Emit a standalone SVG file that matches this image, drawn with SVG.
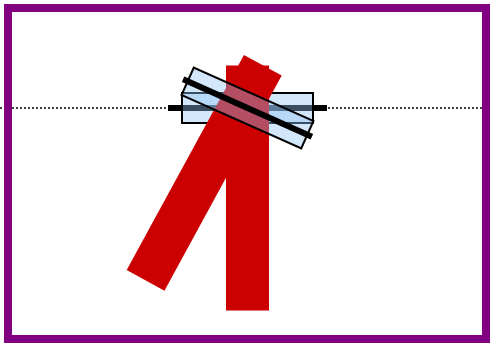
<svg xmlns="http://www.w3.org/2000/svg" width="490" height="343" viewBox="0 0 490 343">
  <defs>
    <style>
      .bar { fill: #cc0000; }
      .box { fill: #92c3f4; fill-opacity: 0.4; stroke: #000; stroke-width: 2; }
      .axle { stroke: #000; stroke-width: 6; }
    </style>
  </defs>
  <rect x="0" y="0" width="490" height="343" fill="#fff"/>
  <g id="connectors">
    <line x1="0" y1="108" x2="490" y2="108" stroke="#000" stroke-width="1.5" stroke-dasharray="2,2"/>
  </g>
  <g id="horizontal-axle">
    <line class="axle" x1="168" y1="108" x2="327" y2="108"/>
  </g>
  <g id="horizontal-box">
    <rect class="box" x="182" y="93" width="131" height="30"/>
  </g>
  <g id="vertical-bar">
    <rect class="bar" x="226" y="65.5" width="43" height="245"/>
  </g>
  <g id="tilted-bar">
    <rect class="bar" x="-21.5" y="-122.5" width="43" height="245" transform="translate(204.2,172.8) rotate(28.6)"/>
  </g>
  <g id="tilted-box">
    <rect class="box" x="182" y="93" width="131" height="30" transform="rotate(24 247.5 108)"/>
  </g>
  <g id="tilted-axle">
    <line class="axle" x1="177" y1="108" x2="318" y2="108" transform="rotate(24 247.5 108)"/>
  </g>
  <g id="frame">
    <rect x="8" y="8" width="478" height="331" fill="none" stroke="#800080" stroke-width="8"/>
  </g>
</svg>
